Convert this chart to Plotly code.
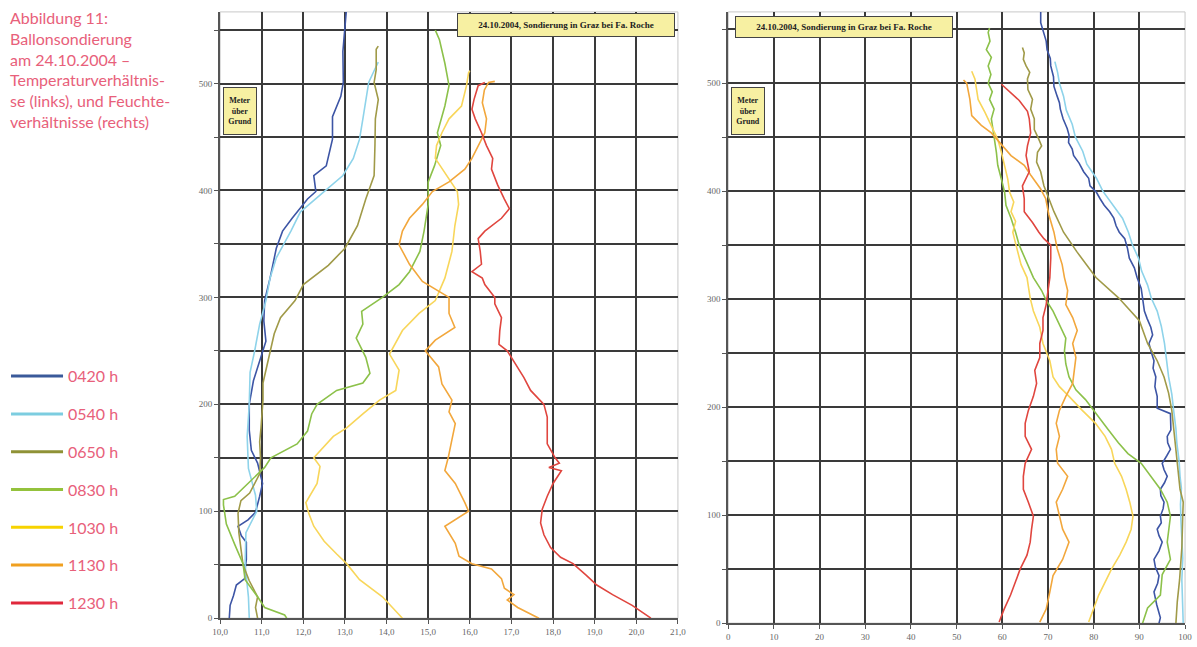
import plotly.graph_objects as go

# ---------------- data: left chart (temperature °C vs. height m) ----------------
times = ["0420 h", "0540 h", "0650 h", "0830 h", "1030 h", "1130 h", "1230 h"]
colors = ["#3d55a5", "#8ed3ea", "#a09a48", "#8cc14a", "#f8d65a", "#f2a73c", "#e0463f"]
legend_colors = ["#3a5a9a", "#7ccde0", "#8f9236", "#94c23c", "#f7d300", "#f0a020", "#e0283c"]

t0420_h = [0, 12, 21, 31, 37, 46, 55, 71, 77, 86, 92, 99, 114, 126, 145, 157, 176, 200, 222, 247, 259, 278, 297, 318, 346, 362, 374, 392, 399, 414, 423, 448, 469, 488, 501, 530, 550, 567]
t0420_v = [10.22, 10.24, 10.32, 10.39, 10.59, 10.6, 10.63, 10.63, 10.51, 10.43, 10.67, 10.85, 10.95, 11.02, 10.9, 10.75, 10.7, 10.7, 10.8, 11.0, 11.1, 11.05, 11.07, 11.2, 11.35, 11.5, 11.73, 12.1, 12.3, 12.25, 12.55, 12.7, 12.7, 12.9, 12.96, 12.95, 13.0, 13.03]

t0540_h = [0, 20, 50, 80, 100, 115, 140, 170, 200, 230, 250, 275, 297, 318, 337, 362, 380, 399, 414, 430, 448, 467, 485, 501, 512, 520]
t0540_v = [10.7, 10.68, 10.6, 10.62, 10.88, 10.85, 10.68, 10.65, 10.7, 10.72, 10.83, 10.95, 11.1, 11.2, 11.35, 11.7, 11.93, 12.5, 12.95, 13.2, 13.35, 13.43, 13.5, 13.57, 13.7, 13.8]

t0650_h = [0, 10, 20, 35, 50, 65, 80, 98, 110, 117, 135, 150, 165, 177, 204, 220, 250, 266, 281, 297, 312, 330, 346, 367, 392, 414, 442, 467, 485, 501, 513, 532, 535]
t0650_v = [10.9, 10.85, 10.9, 10.7, 10.55, 10.5, 10.45, 10.43, 10.5, 10.71, 10.95, 10.97, 10.95, 10.98, 11.03, 11.03, 11.2, 11.3, 11.45, 11.8, 12.0, 12.6, 13.0, 13.3, 13.5, 13.7, 13.72, 13.73, 13.8, 13.7, 13.75, 13.75, 13.8]

t0830_h = [0, 3, 10, 20, 36, 51, 69, 88, 106, 111, 114, 126, 141, 150, 163, 175, 191, 200, 213, 220, 229, 244, 262, 275, 287, 300, 312, 324, 343, 362, 387, 408, 423, 442, 454, 479, 498, 519, 541, 550]
t0830_v = [11.6, 11.55, 11.07, 10.9, 10.6, 10.55, 10.35, 10.15, 10.08, 10.08, 10.35, 10.67, 11.07, 11.22, 11.85, 12.1, 12.2, 12.33, 12.8, 13.43, 13.6, 13.5, 13.27, 13.43, 13.4, 13.9, 14.3, 14.55, 14.8, 14.9, 15.0, 15.0, 15.15, 15.3, 15.22, 15.4, 15.5, 15.4, 15.27, 15.17]

t1030_h = [0, 10, 20, 36, 51, 60, 72, 86, 98, 108, 126, 142, 150, 170, 178, 191, 204, 213, 232, 247, 269, 285, 297, 318, 343, 367, 387, 399, 417, 430, 442, 454, 467, 479, 498, 510, 512]
t1030_v = [14.38, 14.15, 13.9, 13.35, 13.04, 12.8, 12.5, 12.25, 12.13, 12.06, 12.33, 12.4, 12.25, 12.72, 13.04, 13.43, 13.83, 14.22, 14.3, 14.07, 14.38, 14.78, 15.17, 15.4, 15.57, 15.64, 15.73, 15.7, 15.4, 15.17, 15.2, 15.33, 15.5, 15.8, 15.92, 15.97, 16.0]

t1130_h = [0, 10, 17, 22, 28, 37, 46, 51, 58, 70, 86, 92, 100, 108, 126, 138, 150, 167, 182, 193, 204, 219, 235, 250, 260, 272, 285, 300, 315, 331, 349, 362, 374, 387, 399, 408, 420, 430, 442, 454, 467, 482, 494, 501, 502]
t1130_v = [17.66, 17.15, 16.9, 17.06, 16.83, 16.76, 16.52, 16.05, 15.74, 15.65, 15.4, 15.65, 15.97, 15.88, 15.65, 15.4, 15.48, 15.57, 15.65, 15.5, 15.57, 15.33, 15.25, 14.93, 15.17, 15.64, 15.5, 15.5, 14.86, 14.55, 14.3, 14.38, 14.55, 14.86, 15.1, 15.5, 15.88, 16.05, 16.2, 16.36, 16.4, 16.3, 16.35, 16.45, 16.6]

t1230_h = [0, 12, 22, 31, 40, 51, 57, 66, 78, 89, 102, 114, 126, 138, 141, 145, 150, 163, 175, 188, 200, 213, 225, 238, 250, 256, 269, 281, 294, 300, 312, 318, 324, 331, 343, 355, 362, 374, 383, 392, 405, 420, 430, 442, 454, 467, 476, 485, 498, 501]
t1230_v = [20.35, 19.9, 19.43, 19.05, 18.8, 18.48, 18.18, 17.94, 17.78, 17.7, 17.74, 17.86, 18.0, 18.2, 17.9, 18.15, 18.05, 17.86, 17.86, 17.86, 17.78, 17.46, 17.3, 17.1, 16.9, 16.7, 16.72, 16.76, 16.6, 16.6, 16.36, 16.3, 16.05, 16.28, 16.25, 16.2, 16.36, 16.76, 16.95, 16.83, 16.67, 16.52, 16.55, 16.4, 16.28, 16.13, 16.05, 16.1, 16.2, 16.36]

# ---------------- data: right chart (relative humidity % vs. height m) ----------------
f0420_h = [0, 5, 17, 29, 37, 44, 52, 59, 67, 75, 81, 87, 93, 99, 106, 112, 118, 124, 130, 136, 142, 148, 155, 161, 167, 173, 179, 185, 194, 199, 210, 219, 228, 236, 243, 251, 259, 267, 274, 282, 289, 301, 310, 320, 329, 338, 347, 356, 362, 368, 375, 381, 387, 393, 399, 405, 412, 418, 426, 433, 439, 445, 452, 458, 467, 476, 482, 488, 497, 506, 516, 523, 531, 539, 547, 556, 567]
f0420_v = [94.3, 94.6, 93.8, 93.2, 94.0, 94.3, 93.5, 93.2, 94.3, 95.0, 94.3, 93.9, 94.8, 94.6, 95.2, 95.4, 94.7, 94.6, 95.5, 96.1, 95.4, 95.0, 96.0, 96.8, 96.2, 96.1, 96.9, 96.8, 96.8, 93.9, 93.9, 93.4, 93.6, 93.0, 93.2, 92.6, 92.1, 92.9, 92.5, 91.7, 91.1, 90.7, 90.4, 89.5, 88.9, 87.8, 87.4, 86.8, 85.6, 84.9, 84.4, 83.5, 82.3, 81.4, 80.6, 79.2, 78.9, 77.8, 76.8, 75.6, 75.3, 74.5, 74.6, 74.2, 73.3, 72.7, 72.5, 72.0, 71.3, 71.2, 70.6, 70.5, 69.8, 69.6, 69.1, 68.4, 68.4]

f0540_h = [0, 20, 40, 60, 75, 95, 110, 125, 136, 150, 167, 180, 197, 212, 228, 244, 259, 275, 289, 301, 313, 326, 338, 350, 362, 375, 387, 400, 412, 425, 437, 450, 462, 475, 488, 500, 510, 520]
f0540_v = [99.6, 99.4, 99.3, 99.5, 99.3, 99.1, 99.0, 99.2, 98.9, 98.7, 98.2, 98.0, 97.5, 97.1, 96.4, 96.0, 95.5, 94.8, 93.9, 92.6, 91.8, 90.5, 89.8, 88.5, 87.6, 86.3, 84.3, 82.0, 80.6, 78.5, 77.6, 76.0, 75.3, 74.0, 73.4, 72.5, 72.1, 71.5]

f0650_h = [0, 20, 40, 70, 100, 112, 124, 136, 167, 197, 213, 228, 243, 259, 280, 301, 320, 344, 362, 381, 393, 405, 418, 427, 436, 442, 448, 457, 467, 476, 485, 494, 504, 510, 516, 522, 528, 533]
f0650_v = [98.0, 98.3, 98.8, 99.3, 99.5, 99.6, 98.9, 98.6, 97.9, 97.1, 96.4, 95.4, 93.9, 91.8, 90.0, 85.5, 80.5, 76.3, 73.4, 71.3, 70.2, 69.1, 68.4, 67.5, 67.7, 68.6, 68.0, 67.0, 67.0, 66.2, 66.6, 65.6, 65.5, 66.0, 65.2, 64.6, 64.8, 64.4]

f0830_h = [0, 14, 26, 45, 59, 75, 99, 112, 124, 136, 148, 157, 167, 179, 191, 200, 207, 216, 228, 240, 252, 264, 277, 289, 299, 308, 320, 332, 350, 362, 375, 387, 399, 411, 424, 436, 448, 458, 467, 476, 485, 492, 500, 508, 516, 524, 531, 539, 547, 551]
f0830_v = [90.7, 91.8, 94.6, 95.0, 96.8, 96.1, 96.8, 96.1, 94.6, 92.5, 90.4, 87.5, 85.4, 83.2, 81.1, 79.6, 78.2, 76.1, 74.6, 73.9, 73.6, 73.9, 72.5, 71.1, 69.6, 68.6, 66.8, 65.5, 63.7, 62.9, 61.9, 60.8, 60.5, 59.8, 59.0, 58.7, 58.3, 58.0, 57.6, 58.2, 57.2, 57.8, 56.9, 57.5, 56.9, 57.6, 56.5, 57.3, 56.9, 57.2]

f1030_h = [1, 13, 26, 38, 50, 63, 75, 87, 99, 112, 124, 136, 148, 161, 173, 185, 197, 210, 219, 228, 243, 259, 274, 289, 301, 320, 332, 350, 362, 372, 381, 390, 399, 411, 424, 436, 448, 461, 473, 485, 494, 504, 511]
f1030_v = [78.9, 80.0, 81.1, 82.5, 83.9, 85.7, 87.1, 88.2, 88.6, 87.9, 87.1, 86.1, 84.6, 83.9, 82.5, 80.4, 77.5, 74.6, 72.5, 71.1, 70.4, 68.9, 68.2, 66.8, 66.1, 65.4, 64.1, 63.0, 62.3, 62.9, 61.9, 62.5, 61.6, 61.2, 60.5, 59.8, 59.0, 57.6, 56.2, 54.7, 54.4, 54.0, 53.3]

f1130_h = [1, 13, 29, 44, 59, 75, 87, 99, 112, 124, 136, 148, 161, 173, 185, 197, 210, 222, 234, 246, 259, 271, 283, 295, 308, 320, 332, 347, 362, 378, 393, 402, 415, 424, 433, 445, 454, 461, 470, 485, 500, 503]
f1130_v = [68.2, 69.6, 70.4, 71.1, 73.2, 74.6, 73.2, 72.5, 71.8, 73.2, 74.3, 72.1, 71.8, 72.5, 71.8, 72.5, 73.9, 75.4, 75.7, 76.1, 75.4, 76.4, 75.4, 73.9, 74.3, 73.6, 73.1, 72.0, 71.3, 70.2, 69.5, 68.4, 66.2, 64.8, 61.9, 59.4, 57.6, 55.4, 53.3, 52.9, 52.2, 51.5]

f1230_h = [1, 13, 26, 38, 50, 63, 75, 87, 99, 112, 124, 136, 148, 161, 173, 185, 197, 210, 222, 234, 246, 259, 271, 283, 295, 308, 320, 338, 350, 356, 362, 371, 381, 393, 405, 418, 433, 442, 454, 467, 474, 484, 491, 499]
f1230_v = [59.3, 60.4, 61.8, 62.9, 63.9, 65.4, 66.1, 66.4, 66.8, 65.7, 64.6, 64.6, 65.0, 66.4, 65.0, 65.0, 65.7, 66.8, 67.5, 67.1, 68.2, 68.2, 68.9, 68.9, 69.6, 70.0, 70.4, 70.6, 70.6, 69.1, 68.0, 66.6, 64.8, 64.8, 64.4, 65.9, 65.2, 65.5, 66.2, 65.9, 65.5, 63.7, 61.9, 59.8]

temp_series = [(t0420_h, t0420_v), (t0540_h, t0540_v), (t0650_h, t0650_v), (t0830_h, t0830_v),
               (t1030_h, t1030_v), (t1130_h, t1130_v), (t1230_h, t1230_v)]
hum_series = [(f0420_h, f0420_v), (f0540_h, f0540_v), (f0650_h, f0650_v), (f0830_h, f0830_v),
              (f1030_h, f1030_v), (f1130_h, f1130_v), (f1230_h, f1230_v)]

temp_ticks = [10, 11, 12, 13, 14, 15, 16, 17, 18, 19, 20, 21]
temp_ticktext = ["10,0", "11,0", "12,0", "13,0", "14,0", "15,0", "16,0", "17,0", "18,0", "19,0", "20,0", "21,0"]
hum_ticks = [0, 10, 20, 30, 40, 50, 60, 70, 80, 90, 100]
height_ticks = [0, 50, 100, 150, 200, 250, 300, 350, 400, 450, 500, 550]
height_ticktext = ["0", "", "100", "", "200", "", "300", "", "400", "", "500", ""]

chart_title = "24.10.2004, Sondierung in Graz bei Fa. Roche"
box_label = "Meter<br>über<br>Grund"
caption = ("Abbildung 11:<br>Ballonsondierung<br>am 24.10.2004 –<br>Temperaturverhältnis-"
           "<br>se (links), und Feuchte-<br>verhältnisse (rechts)")

# ---------------- figure ----------------
W, H = 1197, 647
fig = go.Figure()

for i, (hh, vv) in enumerate(temp_series):
    fig.add_trace(go.Scatter(x=vv, y=hh, mode="lines", line=dict(color=colors[i], width=1.6),
                             xaxis="x", yaxis="y", showlegend=False, hoverinfo="skip"))
for i, (hh, vv) in enumerate(hum_series):
    fig.add_trace(go.Scatter(x=vv, y=hh, mode="lines", line=dict(color=colors[i], width=1.6),
                             xaxis="x2", yaxis="y2", showlegend=False, hoverinfo="skip"))
# legend entries
for i, name in enumerate(times):
    fig.add_trace(go.Scatter(x=[None], y=[None], mode="lines", name=name,
                             line=dict(color=legend_colors[i], width=3),
                             legendgroup=name, showlegend=True, xaxis="x", yaxis="y"))

serif = "Liberation Serif"
gridc = "#3a3a3a"
tickfont = dict(family=serif, size=9, color="#666666")

def px_x(p):
    return p / W

def px_y(p):
    return 1 - p / H

common_x = dict(showgrid=True, gridcolor=gridc, gridwidth=2, zeroline=False,
                showline=True, linecolor="#555555", linewidth=2, ticks="outside",
                ticklen=4, tickcolor="#555555", tickfont=tickfont, fixedrange=True)
common_y = dict(showgrid=True, gridcolor=gridc, gridwidth=2, zeroline=False,
                showline=True, linecolor="#555555", linewidth=2, ticks="outside",
                ticklen=4, tickcolor="#555555", tickfont=tickfont, fixedrange=True,
                tickvals=height_ticks, ticktext=height_ticktext)

fig.update_layout(
    width=W, height=H, autosize=False,
    margin=dict(l=0, r=0, t=0, b=0),
    paper_bgcolor="white", plot_bgcolor="white",
    xaxis=dict(domain=[px_x(215), px_x(679)], range=[10, 21], tickvals=temp_ticks,
               ticktext=temp_ticktext, anchor="y", **common_x),
    yaxis=dict(domain=[px_y(623), px_y(12)], range=[0, 567], anchor="x", **common_y),
    xaxis2=dict(domain=[px_x(730), px_x(1193)], range=[0, 100], tickvals=hum_ticks,
                anchor="y2", **common_x),
    yaxis2=dict(domain=[px_y(628), px_y(12)], range=[0, 566], anchor="x2", **common_y),
    legend=dict(x=px_x(-2), y=px_y(362), xanchor="left", yanchor="top",
                font=dict(family="Lato", size=16, color="#e8607a"),
                tracegroupgap=14, itemwidth=52, bgcolor="rgba(0,0,0,0)"),
    showlegend=True,
)

shapes = []
for xr, yr in (("x domain", "y domain"), ("x2 domain", "y2 domain")):
    shapes.append(dict(type="rect", xref=xr, yref=yr, x0=0, x1=1, y0=0, y1=1,
                       line=dict(color="#c8c8c8", width=1), layer="below"))
fig.update_layout(shapes=shapes)

annos = [
    dict(text=caption, xref="paper", yref="paper", x=0, y=px_y(6), xanchor="left", yanchor="top",
         align="left", showarrow=False, font=dict(family="Lato", size=16, color="#e8607a")),
    dict(text="<b>" + chart_title + "</b>", xref="paper", yref="paper", x=px_x(566), y=px_y(25),
         xanchor="center", yanchor="middle", showarrow=False, bgcolor="#f7f0a2",
         bordercolor="#444444", borderwidth=1, borderpad=3, width=210, height=16,
         font=dict(family=serif, size=9, color="#222222")),
    dict(text="<b>" + chart_title + "</b>", xref="paper", yref="paper", x=px_x(847), y=px_y(27),
         xanchor="center", yanchor="middle", showarrow=False, bgcolor="#f7f0a2",
         bordercolor="#444444", borderwidth=1, borderpad=3, width=210, height=14,
         font=dict(family=serif, size=9, color="#222222")),
    dict(text="<b>" + box_label + "</b>", xref="paper", yref="paper", x=px_x(235), y=px_y(112),
         xanchor="center", yanchor="middle", showarrow=False, bgcolor="#f7f0a2",
         bordercolor="#444444", borderwidth=1, borderpad=3, width=26, height=40,
         font=dict(family=serif, size=8, color="#222222")),
    dict(text="<b>" + box_label + "</b>", xref="paper", yref="paper", x=px_x(750), y=px_y(112),
         xanchor="center", yanchor="middle", showarrow=False, bgcolor="#f7f0a2",
         bordercolor="#444444", borderwidth=1, borderpad=3, width=26, height=40,
         font=dict(family=serif, size=8, color="#222222")),
]
fig.update_layout(annotations=annos)

fig.write_html("out.html", config={"displayModeBar": False})
